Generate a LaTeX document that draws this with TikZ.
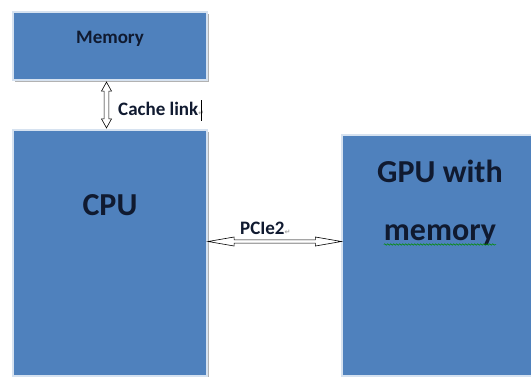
\documentclass[tikz,border=0pt]{standalone}
\usepackage{fontspec}
\setmainfont{Carlito}
\newfontfamily\symfont{DejaVu Sans}
\usetikzlibrary{calc,shadows,decorations.pathmorphing}
\definecolor{boxblue}{HTML}{4F81BD}
\definecolor{boxedge}{HTML}{D6E2F0}
\definecolor{inktext}{HTML}{101A30}
\newcommand{\parmark}{{\symfont\fontsize{7}{7}\selectfont\color{gray!70}↵}}
\begin{document}
\begin{tikzpicture}[x=1pt,y=-1pt,
  unit/.style={draw=boxedge, line width=1.2pt, fill=boxblue, inner sep=0pt,
    drop shadow={shadow xshift=1.6pt, shadow yshift=-1.6pt, fill=black!30, opacity=1}},
  small/.style={font=\fontsize{19}{19}\selectfont\bfseries, text=inktext, inner sep=0pt},
  big/.style={font=\fontsize{32}{32}\selectfont\bfseries, text=inktext, inner sep=0pt},
  hollow/.style={draw=black, fill=white, line width=0.6pt, line join=miter}]
  \useasboundingbox[fill=white] (0,0) rectangle (531,376);

  % blocks
  \node[unit, minimum width=194pt, minimum height=68pt] (mem) at (110,46) {};
  \node[unit, minimum width=194pt, minimum height=246pt] (cpu) at (110,253) {};
  \node[unit, minimum width=192pt, minimum height=241pt] (gpu) at (438,255.5) {};

  % block labels
  \node[small, anchor=base] (memtxt) at (110,43) {Memory};
  \node[big, anchor=base] (cputxt) at (110,215) {CPU};
  \node[big, anchor=base] (gputxt) at (440,182) {GPU with};
  \node[big, anchor=base] (gpumem) at (440,240) {memory};
  \draw[green!55!black, line width=0.5pt,
        decorate, decoration={snake, segment length=3pt, amplitude=0.7pt}]
    ($(gpumem.base west)+(0,4.5)$) -- ($(gpumem.base east)+(0,4.5)$);

  % link labels
  \node[small, anchor=base west] (cachetxt) at (118,115) {Cache link\parmark};
  \draw[black, line width=0.8pt] (201,100) -- (201,121);
  \node[small, anchor=base west] (pcietxt) at (240,234) {PCIe2\parmark};

  % cache link: vertical hollow double arrow
  \coordinate (vt) at ($(mem.south)+(-3.5,1.5)$);
  \coordinate (vb) at ($(cpu.north)+(-3.5,-1.5)$);
  \draw[hollow] let \p1=(vt), \p2=(vb) in
    (\x1,\y1) -- (\x1+5pt,\y1-9pt) -- (\x1+2.4pt,\y1-9pt) -- (\x1+2.4pt,\y2+9pt)
    -- (\x1+5pt,\y2+9pt) -- (\x1,\y2) -- (\x1-5pt,\y2+9pt) -- (\x1-2.4pt,\y2+9pt)
    -- (\x1-2.4pt,\y1-9pt) -- (\x1-5pt,\y1-9pt) -- cycle;

  % PCIe2: horizontal hollow double arrow
  \coordinate (hl) at ($(cpu.east)+(0.5,-11.5)$);
  \coordinate (hr) at (gpu.west |- hl);
  \draw[hollow] let \p1=(hl), \p2=(hr) in
    (\x1,\y1) -- (\x1+26pt,\y1+4.5pt) -- (\x1+26pt,\y1+1.6pt) -- (\x2-26pt,\y1+1.6pt)
    -- (\x2-26pt,\y1+4.5pt) -- (\x2,\y1) -- (\x2-26pt,\y1-4.5pt) -- (\x2-26pt,\y1-1.6pt)
    -- (\x1+26pt,\y1-1.6pt) -- (\x1+26pt,\y1-4.5pt) -- cycle;
\end{tikzpicture}
\end{document}
